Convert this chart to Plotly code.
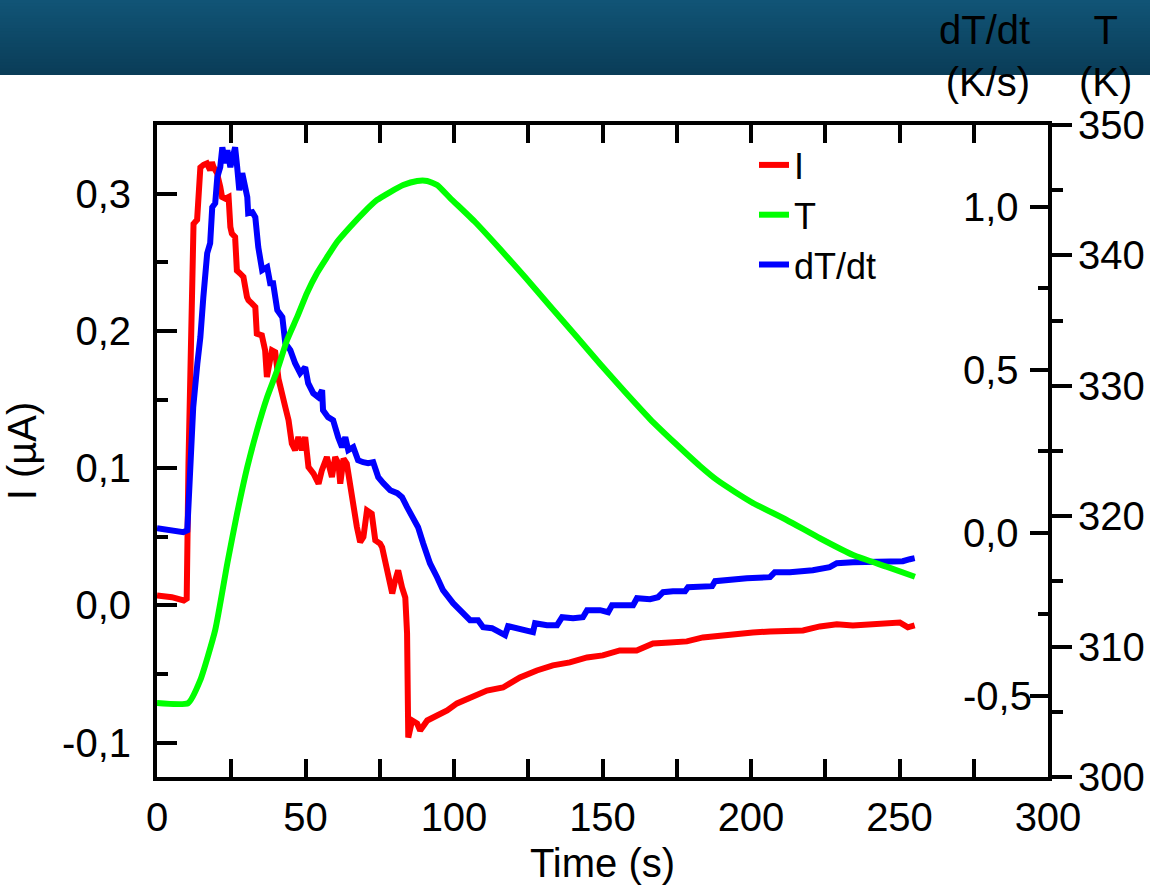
import plotly.graph_objects as go

# ---------------- data ----------------
time_I = [0, 5, 9, 10.0, 10.6, 11.2, 11.8, 12.3, 13.5, 14.0, 14.6, 15.7, 16.8, 17.9, 18.5, 19.0,
          20.2, 21.3, 21.9, 23.0, 24.1, 24.7, 25.2, 26.3, 26.9, 28.0, 29.1, 30.3, 30.8, 32.0,
          33.1, 33.6, 35.3, 36.4, 37.0, 38.7, 39.8, 40.9, 42.1, 43.2, 44.3, 45.4, 46.5, 47.6,
          48.8, 49.9, 51.0, 52.7, 54.4, 55.5, 57.2, 58.9, 60.0, 61.1, 61.7, 62.8, 63.9, 65.0,
          66.2, 67.3, 68.4, 69.5, 70.7, 72.3, 73.5, 75.1, 75.8, 76.8, 77.8, 79.2, 80.2, 81.2,
          82.5, 83.6, 84.2, 84.6, 85.9, 87.6, 88.6, 91.0, 94.3, 97.7, 101.0, 105.4, 111.1,
          116.5, 122.2, 127.9, 133.3, 139.0, 144.8, 150.1, 155.8, 161.5, 167.0, 172.7, 178.4,
          183.8, 189.5, 195.3, 200.6, 206.4, 212.1, 217.5, 223.2, 228.9, 234.3, 240.0, 245.7,
          250.1, 252.8, 255.1]
current_I = [0.0073, 0.006, 0.0036, 0.005, 0.1035, 0.176, 0.237, 0.278, 0.281, 0.302, 0.319,
             0.321, 0.322, 0.317, 0.323, 0.3195, 0.315, 0.305, 0.2976, 0.2964, 0.2976, 0.2757,
             0.271, 0.2684, 0.244, 0.2418, 0.2393, 0.2247, 0.2223, 0.2199, 0.2174, 0.198,
             0.1968, 0.1859, 0.1664, 0.1859, 0.1846, 0.1652, 0.1518, 0.1445, 0.1348, 0.1179,
             0.113, 0.1227, 0.113, 0.1227, 0.1008, 0.096, 0.0887, 0.0984, 0.1081, 0.0935,
             0.1081, 0.1033, 0.0887, 0.1069, 0.1033, 0.0862, 0.0692, 0.0571, 0.0461, 0.0498,
             0.0692, 0.0668, 0.0474, 0.045, 0.0423, 0.0328, 0.0255, 0.0087, 0.0182, 0.0255,
             0.0131, 0.0058, -0.0204, -0.0962, -0.0838, -0.086, -0.0911, -0.0838, -0.0802,
             -0.0765, -0.0714, -0.0671, -0.062, -0.0598, -0.0525, -0.0474, -0.0437, -0.0415,
             -0.0379, -0.0364, -0.0328, -0.0328, -0.0277, -0.027, -0.0262, -0.0233, -0.0219,
             -0.0204, -0.0197, -0.019, -0.0182, -0.0182, -0.0153, -0.0138, -0.0146, -0.0138,
             -0.0131, -0.0124, -0.016, -0.0146]

time_T = [0, 10.5, 14.6, 19.6, 23.7, 27.0, 30.4, 33.7, 37.1, 40.5, 43.8, 47.2, 50.5, 53.9,
          57.3, 60.6, 65.0, 69.4, 74.1, 78.5, 82.9, 87.6, 91.0, 94.3, 98.7, 107.1, 115.5,
          123.9, 132.3, 140.8, 149.2, 157.6, 166.0, 174.4, 182.8, 188.5, 194.6, 200.7, 212.0,
          223.2, 234.4, 245.6, 255.2]
temp_T = [305.67, 305.67, 307.44, 311.27, 316.41, 320.25, 323.77, 326.61, 329.14, 331.21,
          333.51, 335.28, 337.12, 338.65, 339.88, 341.03, 342.18, 343.25, 344.25, 344.86,
          345.4, 345.71, 345.71, 345.4, 344.4, 342.56, 340.49, 338.34, 336.12, 333.90,
          331.67, 329.52, 327.45, 325.61, 323.85, 322.78, 321.86, 321.01, 319.71, 318.31,
          317.02, 316.13, 315.36]

time_D = [0, 8.85, 10.2, 11.2, 12.2, 13.6, 14.6, 15.6, 16.9, 17.9, 18.6, 19.6, 20.3, 21.3,
          22.0, 23.0, 23.7, 24.7, 25.7, 26.3, 27.0, 27.7, 28.7, 29.7, 30.4, 30.7, 32.1, 33.1,
          34.1, 35.4, 37.1, 38.1, 39.1, 40.5, 42.2, 43.2, 44.9, 46.5, 48.2, 49.9, 50.9, 52.6,
          54.3, 55.6, 55.9, 57.6, 59.3, 61.0, 62.3, 63.4, 64.4, 66.1, 67.7, 69.4, 71.1, 72.8,
          74.5, 76.2, 78.5, 80.9, 82.5, 84.2, 86.2, 87.9, 89.6, 91.9, 94.3, 96.3, 99.7, 103.1,
          105.4, 108.1, 109.8, 112.8, 115.5, 117.2, 118.2, 121.2, 124.6, 126.6, 127.3, 131.3,
          134.7, 136.4, 140.1, 143.4, 144.8, 149.2, 151.9, 153.2, 156.9, 160.3, 161.6, 166.0,
          168.7, 170.4, 173.7, 177.8, 178.8, 182.8, 186.9, 187.9, 192.9, 198.6, 206.4, 208.0,
          213.1, 220.8, 226.5, 228.9, 234.3, 243.4, 251.1, 253.5, 255.1]
rate_D = [0.013, 0.001, 0.007, 0.2126, 0.3844, 0.5193, 0.5991, 0.7218, 0.8567, 0.8874,
          0.9978, 1.0101, 1.0899, 1.1206, 1.1819, 1.1328, 1.1727, 1.1206, 1.1727, 1.1819,
          1.1206, 1.05, 1.1022, 1.05, 1.0285, 0.9794, 0.9825, 0.9672, 0.8752, 0.8046, 0.8138,
          0.7647, 0.7647, 0.6819, 0.6604, 0.5807, 0.5592, 0.5193, 0.4887, 0.5071, 0.458,
          0.4273, 0.415, 0.4365, 0.3752, 0.3537, 0.3445, 0.2923, 0.2617, 0.2923, 0.2525,
          0.2617, 0.2218, 0.2157, 0.2126, 0.2157, 0.1697, 0.1512, 0.1298, 0.1206, 0.1083,
          0.0776, 0.0469, 0.0163, -0.0328, -0.0942, -0.1371, -0.177, -0.2169, -0.2475,
          -0.269, -0.269, -0.2905, -0.2935, -0.3058, -0.315, -0.2874, -0.2935, -0.2997,
          -0.3058, -0.2782, -0.2843, -0.2843, -0.2598, -0.2629, -0.2598, -0.2383, -0.2383,
          -0.2445, -0.223, -0.223, -0.223, -0.2015, -0.2046, -0.1984, -0.1831, -0.18, -0.18,
          -0.1677, -0.1677, -0.1646, -0.1493, -0.1432, -0.1401, -0.137, -0.1217, -0.1217,
          -0.1156, -0.1064, -0.0942, -0.0911, -0.0911, -0.088, -0.0819, -0.0788]

x_ticks = [0, 50, 100, 150, 200, 250, 300]
x_labels = ["0", "50", "100", "150", "200", "250", "300"]
x_minor = [25, 75, 125, 175, 225, 275]
I_ticks = [-0.1, 0.0, 0.1, 0.2, 0.3]
I_labels = ["-0,1", "0,0", "0,1", "0,2", "0,3"]
I_minor = [-0.05, 0.05, 0.15, 0.25]
D_ticks = [-0.5, 0.0, 0.5, 1.0]
D_labels = ["-0,5", "0,0", "0,5", "1,0"]
D_minor = [-0.25, 0.25, 0.75]
T_ticks = [300, 310, 320, 330, 340, 350]
T_labels = ["300", "310", "320", "330", "340", "350"]
T_minor = [305, 315, 325, 335, 345]

# ---------------- figure ----------------
FONT = "Liberation Sans, Arial, sans-serif"
W, H = 1150, 889
ML, MR, MT, MB = 157, 102, 125, 112
PW, PH = W - ML - MR, H - MT - MB

fig = go.Figure()
fig.add_trace(go.Scatter(x=time_I, y=current_I, name="I", mode="lines",
                         line=dict(color="#ff0000", width=6), yaxis="y"))
fig.add_trace(go.Scatter(x=time_T, y=temp_T, name="T", mode="lines",
                         line=dict(color="#00ff00", width=6, shape="spline", smoothing=0.5),
                         yaxis="y3"))
fig.add_trace(go.Scatter(x=time_D, y=rate_D, name="dT/dt", mode="lines",
                         line=dict(color="#0000ff", width=6), yaxis="y2"))


def py2paper(py):
    return (H - MB - py) / PH


def px2paper(px):
    return (px - ML) / PW


# header band: gradient built from overlapping stripes (largest first)
n = 24
c0 = (17, 84, 118)
c1 = (10, 61, 88)
for i in reversed(range(n)):
    f = i / (n - 1)
    col = tuple(round(c0[k] + (c1[k] - c0[k]) * f) for k in range(3))
    fig.add_shape(type="rect", xref="paper", yref="paper",
                  x0=px2paper(-5), x1=px2paper(W + 5),
                  y0=py2paper(75 * (i + 1) / n), y1=py2paper(-5),
                  fillcolor="rgb(%d,%d,%d)" % col, line=dict(width=0), layer="below")

axis_common = dict(showline=True, linecolor="black", linewidth=4, tickcolor="black",
                   tickwidth=4, showgrid=False, zeroline=False,
                   tickfont=dict(family=FONT, size=40, color="black"))

fig.update_layout(
    width=W, height=H,
    margin=dict(l=ML, r=MR, t=MT, b=MB, autoexpand=False),
    paper_bgcolor="white", plot_bgcolor="white",
    font=dict(family=FONT, size=40, color="black"),
    showlegend=True,
    legend=dict(x=px2paper(754), y=py2paper(135), xanchor="left", yanchor="top",
                bgcolor="rgba(0,0,0,0)", font=dict(family=FONT, size=36, color="black"),
                tracegroupgap=0),
    xaxis=dict(range=[0, 300], tickmode="array", tickvals=x_ticks, ticktext=x_labels,
               ticks="inside", ticklen=18, mirror="allticks", ticklabelstandoff=2,
               minor=dict(tickmode="array", tickvals=x_minor, ticks="inside", ticklen=10,
                          tickwidth=4, tickcolor="black"),
               title=dict(text="Time (s)", font=dict(family=FONT, size=40), standoff=12),
               **axis_common),
    yaxis=dict(range=[-0.125, 0.35], tickmode="array", tickvals=I_ticks, ticktext=I_labels,
               ticks="inside", ticklen=20, ticklabelstandoff=14,
               minor=dict(tickmode="array", tickvals=I_minor, ticks="inside", ticklen=11,
                          tickwidth=4, tickcolor="black"),
               title=dict(text="I (\u00b5A)", font=dict(family=FONT, size=40), standoff=20),
               **axis_common),
    # dT/dt labels sit inside the frame, left-aligned, as in the original
    yaxis2=dict(range=[-0.75, 1.25], overlaying="y", side="right", anchor="x",
                tickmode="array", tickvals=D_ticks, ticktext=D_labels,
                ticks="inside", ticklen=18, ticklabelstandoff=-97,
                minor=dict(tickmode="array", tickvals=D_minor, ticks="inside", ticklen=10,
                           tickwidth=4, tickcolor="black"),
                **axis_common),
    yaxis3=dict(range=[300, 350], overlaying="y", side="right", anchor="x",
                tickmode="array", tickvals=T_ticks, ticktext=T_labels,
                ticks="outside", ticklen=20, ticklabelstandoff=-2,
                minor=dict(tickmode="array", tickvals=T_minor, ticks="outside", ticklen=11,
                           tickwidth=4, tickcolor="black"),
                **axis_common),
)

fig.add_annotation(text="dT/dt<br>(K/s)", xref="paper", yref="paper",
                   x=px2paper(1032), y=py2paper(56), xanchor="right", yanchor="middle",
                   align="right", showarrow=False,
                   font=dict(family=FONT, size=40, color="black"))
fig.add_annotation(text="T<br>(K)", xref="paper", yref="paper",
                   x=px2paper(1105), y=py2paper(56), xanchor="center", yanchor="middle",
                   align="center", showarrow=False,
                   font=dict(family=FONT, size=40, color="black"))

fig.write_html("out.html")
